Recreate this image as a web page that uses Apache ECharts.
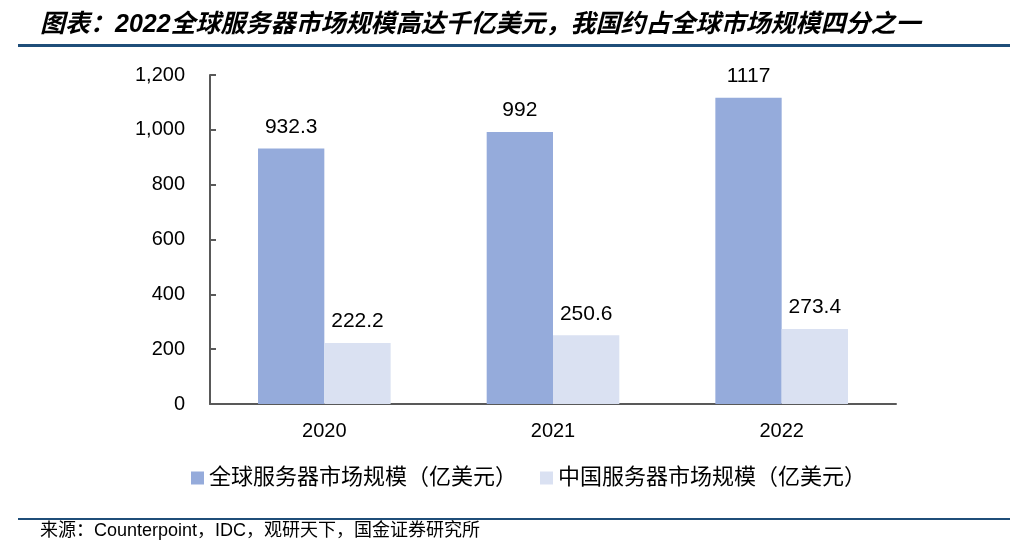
<!DOCTYPE html>
<html><head><meta charset="utf-8">
<script src="https://cdn.jsdelivr.net/npm/echarts@6/dist/echarts.min.js"></script>
<style>html,body{margin:0;padding:0;background:#fff}#c{width:1022px;height:546px}</style>
</head><body><div id="c"></div>
<script>
const categories = ['2020', '2021', '2022'];
const globalValues = [932.3, 992, 1117];
const chinaValues = [222.2, 250.6, 273.4];
const seriesNames = ['全球服务器市场规模（亿美元）', '中国服务器市场规模（亿美元）'];
const titleText = '图表：2022全球服务器市场规模高达千亿美元，我国约占全球市场规模四分之一';
const sourceText = '来源：Counterpoint，IDC，观研天下，国金证券研究所';

const chart = echarts.init(document.getElementById('c'));
const fontCJK = 'Arial, "Liberation Sans", "Noto Sans CJK SC", sans-serif';
chart.setOption({
  animation: false,
  backgroundColor: '#fff',
  graphic: [
    {type: 'text', left: 40, top: 13, style: {text: titleText, font: 'italic bold 25px "Liberation Sans", "Noto Sans CJK SC", sans-serif', fill: '#000'}},
    {type: 'rect', shape: {x: 18, y: 44, width: 992, height: 3}, style: {fill: '#1F4E79'}},
    {type: 'rect', shape: {x: 18, y: 518, width: 992, height: 2}, style: {fill: '#1F4E79'}},
    {type: 'text', left: 40, top: 522, style: {text: sourceText, font: '18px "Liberation Sans", "Noto Sans CJK SC", sans-serif', fill: '#000'}}
  ],
  legend: {
    bottom: 52, left: 186,
    itemWidth: 13, itemHeight: 13, itemGap: 23,
    icon: 'rect',
    textStyle: {fontSize: 22, color: '#000', fontFamily: fontCJK},
    data: seriesNames
  },
  grid: {left: 210, right: 126, top: 75, bottom: 142},
  xAxis: {
    type: 'category', data: categories,
    axisLine: {lineStyle: {color: '#595959', width: 2}},
    axisTick: {show: false},
    axisLabel: {fontSize: 20, color: '#000', margin: 17, fontFamily: fontCJK}
  },
  yAxis: {
    type: 'value', min: 0, max: 1200, interval: 200,
    axisLine: {show: true, lineStyle: {color: '#595959', width: 2}},
    axisTick: {show: true, inside: true, length: 6, lineStyle: {color: '#595959', width: 2}},
    splitLine: {show: false},
    axisLabel: {fontSize: 20, color: '#000', margin: 25, fontFamily: fontCJK,
      formatter: v => v.toLocaleString('en-US')}
  },
  series: [
    {name: seriesNames[0], type: 'bar', data: globalValues, barGap: '0%', barCategoryGap: '42%',
      itemStyle: {color: '#95ABDB'},
      label: {show: true, position: 'top', distance: 11, fontSize: 21, color: '#000', fontFamily: fontCJK}},
    {name: seriesNames[1], type: 'bar', data: chinaValues, barGap: '0%', barCategoryGap: '42%',
      itemStyle: {color: '#DAE1F2'},
      label: {show: true, position: 'top', distance: 11, fontSize: 21, color: '#000', fontFamily: fontCJK}}
  ]
});
</script></body></html>
